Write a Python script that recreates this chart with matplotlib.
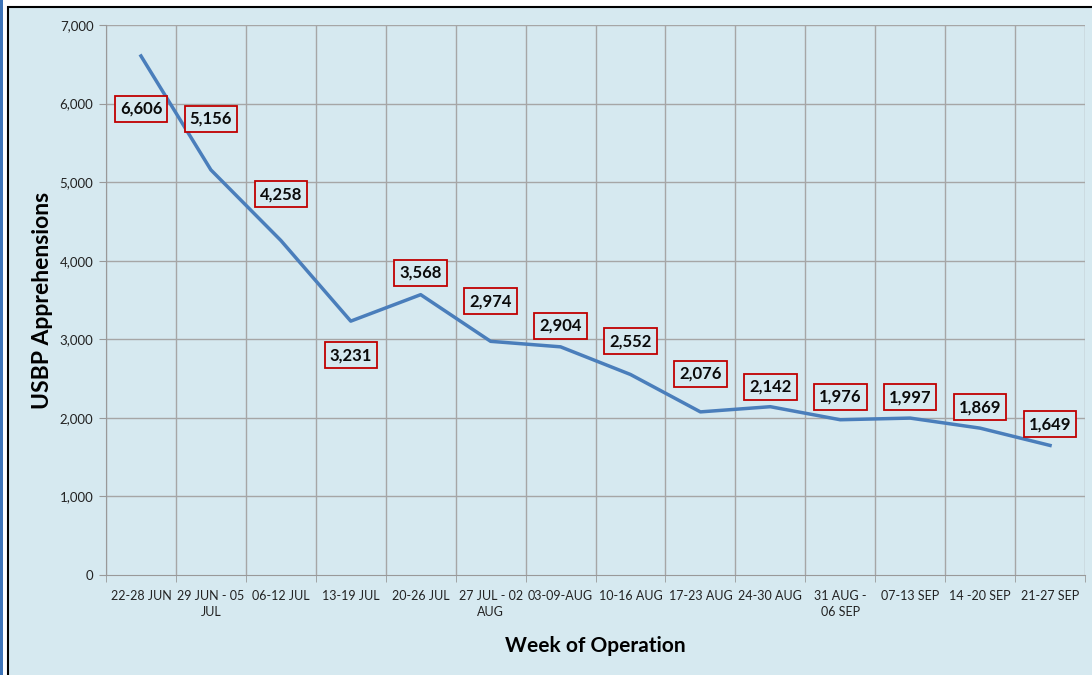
import matplotlib
matplotlib.use("Agg")
import matplotlib.pyplot as plt
from matplotlib.patches import Rectangle
import numpy as np

weeks = ["22-28 JUN", "29 JUN - 05\nJUL", "06-12 JUL", "13-19 JUL", "20-26 JUL",
         "27 JUL - 02\nAUG", "03-09-AUG", "10-16 AUG", "17-23 AUG", "24-30 AUG",
         "31 AUG -\n06 SEP", "07-13 SEP", "14 -20 SEP", "21-27 SEP"]
apprehensions = [6606, 5156, 4258, 3231, 3568, 2974, 2904, 2552, 2076, 2142,
                 1976, 1997, 1869, 1649]
# label offsets (pixels, vertical) from each point
label_dy = [-53, 51, 46, -34, 22, 40, 21, 33, 38, 20, 23, 21, 21, 21]

plt.rcParams['font.family'] = ['Lato', 'DejaVu Sans']

bg = '#d6e9f0'
fig = plt.figure(figsize=(10.92, 6.75), dpi=100, facecolor='white')
fig.patches.append(Rectangle((0, 0), 3/1092, 1, transform=fig.transFigure,
                             facecolor='#3d74b8', edgecolor='none', zorder=-10))
fig.patches.append(Rectangle((8/1092, -0.01), 1.0, (675-7)/675 + 0.01,
                             transform=fig.transFigure, facecolor=bg,
                             edgecolor='black', linewidth=1.5, zorder=-10))

ax = fig.add_axes([106/1092, (675-575)/675, (1085-106)/1092, (575-25)/675])
ax.set_zorder(1)
ax.set_facecolor(bg)

x = np.arange(len(weeks))
ax.plot(x, apprehensions, color='#4a7ebb', linewidth=2.5, zorder=3)

for i, v in enumerate(apprehensions):
    ax.annotate(f"{v:,}", (x[i], v), xytext=(0, label_dy[i]),
                textcoords='offset pixels', ha='center', va='center',
                fontsize=12, fontweight='bold', color='#0a0a0a',
                bbox=dict(boxstyle='square,pad=0.3', facecolor=bg,
                          edgecolor='#c00000', linewidth=1.3), zorder=4)

ax.set_xlim(-0.5, len(weeks) - 0.5)
ax.set_ylim(0, 7000)
ax.set_yticks(np.arange(0, 7001, 1000))
ax.set_yticklabels([f"{t:,}" for t in range(0, 7001, 1000)])

ax.set_xticks(x)
ax.set_xticklabels(weeks, fontsize=9, color='#222222', linespacing=1.35)
ax.set_xticks(np.arange(-0.5, len(weeks)), minor=True)
ax.tick_params(axis='x', which='major', length=0, pad=11)
ax.tick_params(axis='x', which='minor', length=5, color='#999999', direction='out')
ax.tick_params(axis='y', length=5, color='#999999', labelsize=9.5,
               labelcolor='#222222', pad=4)

ax.grid(False)
for t in np.arange(-0.5, len(weeks)):
    ax.axvline(t, color='#a6a6a6', linewidth=1.0, zorder=1)
for t in range(1000, 7001, 1000):
    ax.axhline(t, color='#a6a6a6', linewidth=1.0, zorder=1)

for s in ['top', 'right']:
    ax.spines[s].set_visible(False)
for s in ['left', 'bottom']:
    ax.spines[s].set_color('#999999')

ax.set_xlabel("Week of Operation", fontsize=15, fontweight='bold', labelpad=13)
ax.set_ylabel("USBP Apprehensions", fontsize=16.5, fontweight='bold', labelpad=5)

fig.savefig("out.png", dpi=100, facecolor='white')
